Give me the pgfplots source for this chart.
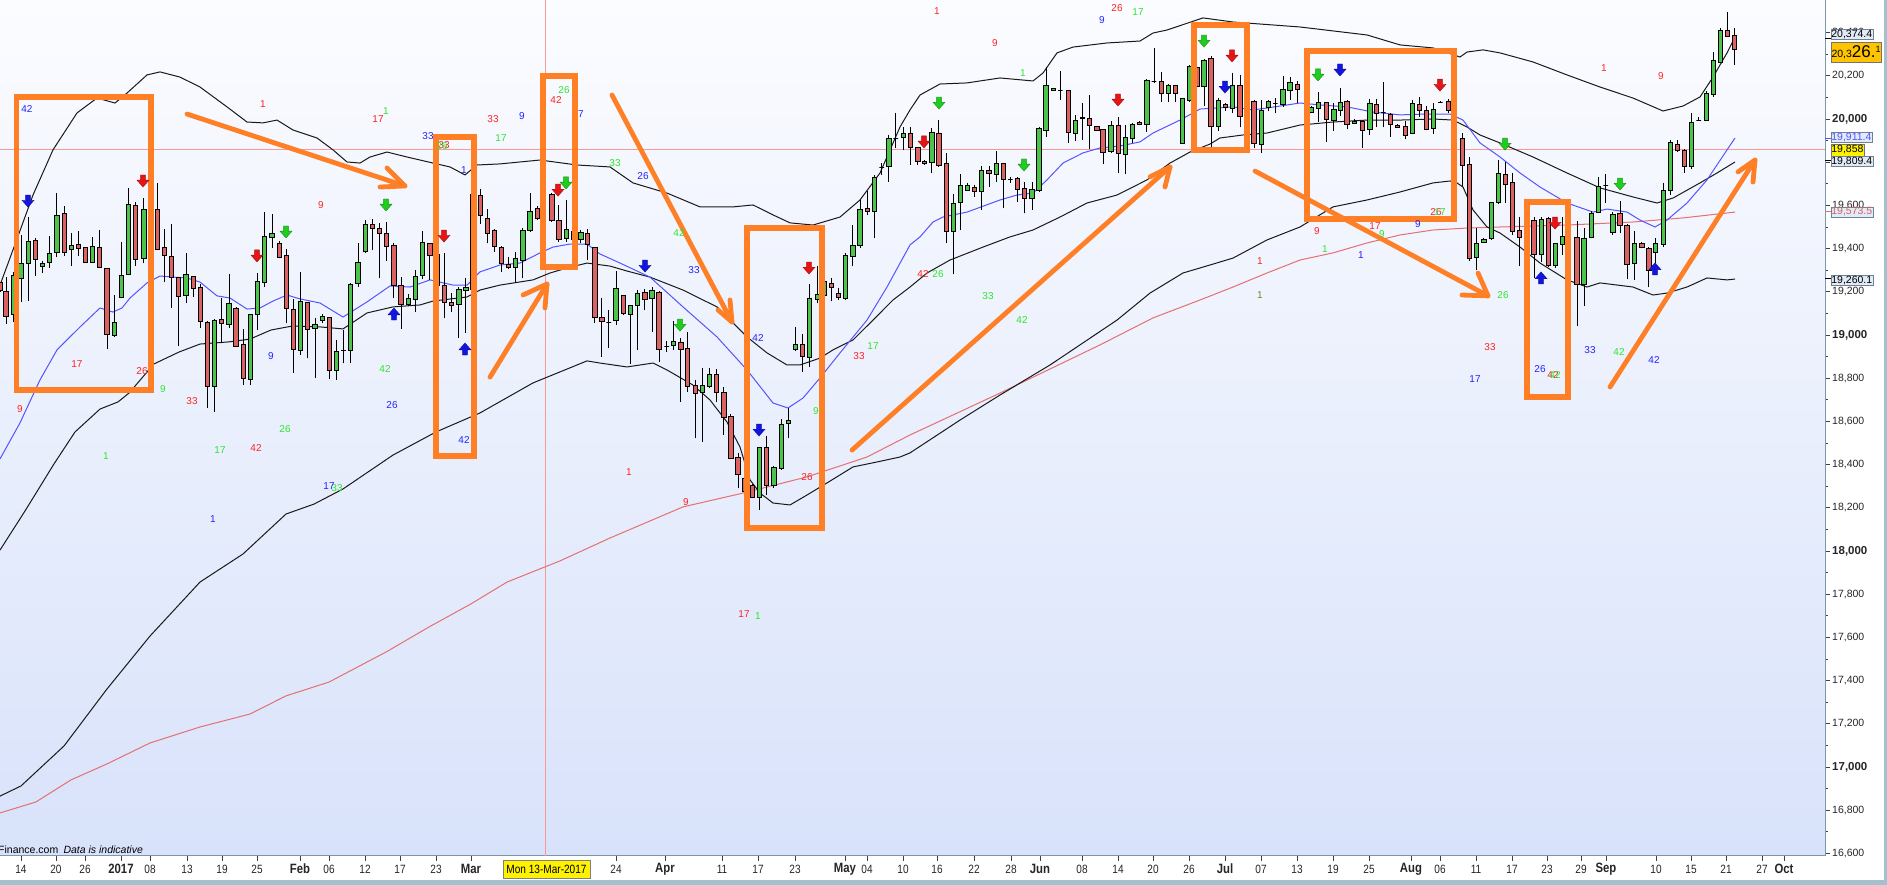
\documentclass[border=0pt]{standalone}
\usepackage{fontspec}
\setmainfont{Liberation Sans}
\newfontfamily\narrowfont[FakeStretch=0.84]{Liberation Sans}
\usepackage{pgfplots}
\usepackage{pgfplotstable}
\pgfplotsset{compat=1.18}

\definecolor{upgreen}{RGB}{76,196,76}
\definecolor{downred}{RGB}{218,98,98}
\definecolor{bandblack}{RGB}{25,25,25}
\definecolor{mablue}{RGB}{85,85,255}
\definecolor{mared}{RGB}{228,112,112}
\definecolor{annred}{RGB}{255,35,35}
\definecolor{anngreen}{RGB}{45,230,45}
\definecolor{annblue}{RGB}{35,35,255}
\definecolor{annolive}{RGB}{110,140,50}
\definecolor{orng}{RGB}{255,127,39}
\definecolor{arrred}{RGB}{232,20,20}
\definecolor{arrgreen}{RGB}{30,205,30}
\definecolor{arrblue}{RGB}{20,20,225}
\definecolor{bgtop}{RGB}{251,252,255}
\definecolor{bgbot}{RGB}{216,226,250}
\definecolor{strip}{RGB}{162,192,206}
\definecolor{axiscol}{RGB}{125,150,170}
\definecolor{boxfill}{RGB}{226,234,246}
\definecolor{boxborder}{RGB}{110,130,150}
\definecolor{gold}{RGB}{255,196,0}
\definecolor{crossp}{RGB}{255,150,150}

\newcommand{\mon}[1]{{\fontsize{13.5}{13.5}\selectfont\bfseries #1}}
\newcommand{\thou}[1]{{\fontsize{11.5}{11.5}\selectfont\bfseries #1}}

\pgfdeclareplotmark{darrow}{%
  \pgfpathmoveto{\pgfpoint{-2.4pt}{6pt}}%
  \pgfpathlineto{\pgfpoint{2.4pt}{6pt}}%
  \pgfpathlineto{\pgfpoint{2.4pt}{0.8pt}}%
  \pgfpathlineto{\pgfpoint{6pt}{0.8pt}}%
  \pgfpathlineto{\pgfpoint{0pt}{-6pt}}%
  \pgfpathlineto{\pgfpoint{-6pt}{0.8pt}}%
  \pgfpathlineto{\pgfpoint{-2.4pt}{0.8pt}}%
  \pgfpathclose
  \pgfusepathqfillstroke}
\pgfdeclareplotmark{uarrow}{%
  \pgfpathmoveto{\pgfpoint{-2.4pt}{-6pt}}%
  \pgfpathlineto{\pgfpoint{2.4pt}{-6pt}}%
  \pgfpathlineto{\pgfpoint{2.4pt}{-0.8pt}}%
  \pgfpathlineto{\pgfpoint{6pt}{-0.8pt}}%
  \pgfpathlineto{\pgfpoint{0pt}{6pt}}%
  \pgfpathlineto{\pgfpoint{-6pt}{-0.8pt}}%
  \pgfpathlineto{\pgfpoint{-2.4pt}{-0.8pt}}%
  \pgfpathclose
  \pgfusepathqfillstroke}

\pgfplotstableread{
x O H L C
0 19242 19247 19201 19208
6 19201 19270 19051 19088
13.3 19093 19293 19059 19276
21 19262 19463 19154 19332
28.3 19332 19548 19159 19432
35.3 19438 19448 19273 19350
42.3 19318 19343 19285 19332
49.3 19336 19458 19309 19378
56.7 19383 19656 19360 19554
64.3 19563 19597 19366 19383
71.3 19397 19471 19321 19414
78.3 19420 19481 19367 19401
85.3 19406 19409 19332 19336
92.3 19335 19452 19332 19409
99.3 19406 19486 19313 19313
107 19309 19309 18935 19003
114.3 19000 19185 18989 19059
121.3 19174 19429 19170 19275
128.3 19282 19682 19279 19606
135.3 19602 19617 19321 19350
143.7 19355 19633 19332 19582
157.3 19582 19702 19394 19398
164.3 19406 19491 19247 19367
171.3 19364 19514 19127 19267
178.3 19265 19265 18951 19177
186 19181 19378 19147 19281
193.3 19270 19273 19177 19216
200.3 19222 19235 19031 19062
207.3 19060 19063 18664 18761
214.3 18761 19072 18645 19068
221.3 19072 19173 18961 19054
229 19049 19282 19031 19147
236 19123 19131 18946 18946
243.3 18954 19028 18768 18799
250.3 18792 19093 18768 19093
257.3 19096 19285 19023 19250
264.3 19244 19571 19224 19457
272 19452 19559 19401 19471
279.3 19424 19437 19355 19360
286.3 19366 19397 19054 19123
293.3 19119 19165 18826 18934
300.3 18930 19292 18909 19157
307.3 19150 19154 18892 19026
315 19031 19077 18802 19051
322.3 19066 19097 19054 19088
329.3 19082 19085 18795 18838
336.3 18835 18977 18792 18926
343.3 18930 19023 18869 18928
350.3 18930 19239 18869 19236
358 19239 19424 19224 19336
365.3 19386 19532 19381 19514
372.3 19514 19535 19394 19494
379.3 19494 19517 19265 19471
386.3 19468 19525 19344 19409
393.7 19415 19424 19173 19227
401 19230 19270 19028 19142
408.3 19143 19190 19134 19170
415.3 19165 19301 19108 19270
422.3 19275 19481 19258 19429
429.7 19424 19427 19255 19369
437.3 19373 19378 19208 19231
444.3 19231 19378 19077 19151
451.3 19151 19193 19108 19137
458.7 19142 19224 18988 19213
465.7 19207 19265 19011 19222
472.7 19211 19651 19208 19651
480.3 19644 19674 19512 19552
487.3 19540 19583 19424 19471
494.3 19486 19491 19386 19409
501.3 19406 19412 19293 19330
508.3 19327 19363 19307 19313
515.3 19313 19386 19242 19352
522.7 19344 19494 19262 19486
530 19486 19656 19478 19571
537.3 19586 19597 19532 19540
551.7 19651 19659 19525 19532
558.7 19532 19602 19432 19443
566.3 19448 19625 19432 19489
573.3 19480 19500 19420 19440
580.7 19440 19486 19424 19474
587.3 19471 19489 19347 19417
594.7 19406 19409 19054 19082
601.7 19082 19170 18900 19062
608.7 19057 19116 18938 19057
616 19069 19296 19046 19216
623.3 19183 19183 19092 19100
630.3 19095 19139 18864 19136
637.3 19136 19208 18930 19193
644.7 19197 19211 19116 19165
652 19168 19224 19015 19205
659 19197 19205 18876 18933
666.7 18946 18974 18920 18946
673.3 18950 19065 18930 18969
680.7 18966 18984 18691 18935
687.3 18938 19015 18737 18761
695.3 18768 18791 18521 18730
702.3 18734 18845 18506 18768
709.3 18761 18845 18753 18815
716.3 18819 18841 18691 18734
723.7 18734 18761 18537 18619
730.7 18625 18634 18424 18429
738 18433 18452 18290 18352
745 18336 18350 18260 18275
752.3 18302 18308 18244 18248
759.3 18248 18483 18190 18478
766.3 18478 18532 18259 18301
773.7 18301 18393 18290 18387
781.3 18382 18611 18375 18586
788.3 18591 18663 18524 18606
795.3 18933 19038 18926 18957
802.3 18954 19004 18830 18899
809.3 18895 19236 18853 19170
817.3 19165 19319 19146 19188
824.3 19185 19270 19170 19250
831.3 19239 19262 19157 19219
838.3 19193 19216 19162 19173
845.3 19167 19378 19162 19370
852.7 19362 19509 19319 19416
860 19413 19625 19401 19582
867.3 19586 19666 19555 19571
874.3 19571 19741 19447 19730
881.7 19776 19795 19741 19776
888.7 19779 19926 19710 19910
895.7 19909 20026 19864 19909
903.3 19915 19964 19856 19934
910.3 19934 19964 19787 19869
917.7 19869 19872 19787 19805
924.3 19805 19810 19787 19795
931.7 19799 19960 19748 19938
938.7 19934 19995 19779 19787
946.3 19795 19841 19424 19478
953.3 19478 19651 19281 19609
960.3 19614 19744 19486 19690
967.3 19671 19702 19667 19690
974.3 19684 19694 19640 19664
981.3 19664 19784 19579 19764
989 19764 19782 19687 19748
996.3 19744 19852 19710 19795
1003.3 19795 19798 19586 19722
1010.3 19718 19733 19705 19718
1017.3 19727 19733 19617 19674
1024.3 19677 19710 19563 19633
1032 19630 19710 19579 19674
1039 19667 19964 19660 19954
1046 19949 20242 19918 20153
1053.3 20134 20145 20130 20142
1060.3 20131 20222 20088 20131
1068.3 20133 20134 19890 19938
1075.3 19934 20018 19898 19995
1082.3 20002 20073 19903 20008
1089.3 20001 20111 19861 19968
1096.7 19964 19969 19944 19949
1103 19952 19954 19790 19846
1111 19849 19992 19841 19969
1118.3 19969 20008 19748 19841
1125.3 19838 19972 19744 19915
1132.3 19910 19980 19890 19975
1139.3 19985 19991 19972 19975
1146.7 19977 20184 19941 20180
1154 20173 20327 20165 20173
1161.3 20173 20216 20080 20119
1168.3 20116 20160 20077 20154
1175.3 20153 20157 20080 20116
1182.3 19887 20099 19887 20096
1189.3 20088 20250 20080 20245
1196.7 20239 20242 20111 20150
1204 20150 20276 20060 20272
1211 20281 20291 19868 19964
1218.3 19967 20095 19944 20088
1225.3 20068 20072 20037 20054
1232.3 20049 20211 20026 20157
1240 20157 20203 19961 20010
1254 20083 20088 19864 19887
1261.3 19884 20088 19841 20041
1268.3 20054 20088 20037 20080
1275.3 20071 20095 20026 20071
1283 20068 20199 20057 20137
1290 20134 20196 20088 20168
1297.3 20162 20177 20072 20137
1311.3 20032 20060 20026 20054
1318.3 20049 20123 19987 20077
1326.3 20075 20080 19895 20000
1333.7 19995 20072 19946 20046
1340.3 20041 20142 20014 20077
1347 20083 20088 19953 19977
1354.3 19980 19999 19977 19990
1362.3 19987 19992 19867 19949
1369.7 19953 20092 19926 20074
1376.3 20068 20092 19961 20026
1383.3 20029 20173 19961 20029
1390.3 20021 20026 19918 19975
1397.3 19969 19975 19956 19961
1405.3 19967 19992 19906 19926
1412.3 19933 20088 19930 20072
1419.3 20069 20100 20010 20038
1426.3 20041 20060 19949 19953
1433.3 19956 20072 19930 20044
1440.3 20078 20081 20075 20078
1448.3 20083 20092 20026 20041
1462.3 19910 19933 19691 19785
1469.3 19790 19825 19344 19355
1476.3 19359 19493 19300 19424
1483.7 19429 19447 19424 19442
1491.3 19447 19617 19442 19612
1498.3 19612 19810 19605 19748
1505.3 19741 19799 19610 19699
1512.3 19705 19748 19463 19481
1519.3 19486 19548 19321 19452
1534 19528 19545 19262 19375
1541.3 19373 19545 19339 19537
1548.3 19540 19548 19316 19321
1555.3 19321 19424 19309 19424
1562.3 19420 19545 19370 19458
1577 19452 19529 19043 19235
1584 19235 19494 19136 19448
1591.3 19451 19574 19448 19563
1598.3 19568 19733 19563 19687
1605.7 19694 19744 19613 19694
1612.7 19475 19571 19463 19559
1620 19563 19620 19471 19509
1627 19509 19514 19258 19327
1634.3 19332 19481 19255 19424
1641.7 19424 19429 19401 19406
1648.7 19401 19409 19221 19301
1655.3 19383 19448 19332 19424
1663.3 19420 19702 19406 19667
1670.3 19667 19903 19648 19892
1677.3 19883 19903 19849 19853
1684.3 19853 19860 19752 19782
1691.3 19782 20026 19767 19985
1698.7 19995 20011 19992 19995
1706.3 19995 20131 19992 20119
1713.3 20114 20312 20103 20273
1720.3 20262 20420 20258 20409
1727.3 20409 20497 20381 20384
1734.3 20386 20420 20250 20323
}\candles

\begin{document}
\begin{tikzpicture}
\path[use as bounding box] (0pt,0pt) rectangle (1887pt,885pt);
\fill[white] (0pt,0pt) rectangle (1887pt,885pt);
\fill[strip] (1884pt,0pt) rectangle (1887pt,885pt);
\fill[strip] (0pt,0pt) rectangle (1887pt,5pt);

\begin{axis}[
  at={(0pt,29pt)}, anchor=south west,
  width=1825pt, height=856pt, scale only axis,
  xmin=0, xmax=1825, ymin=16587.7, ymax=20551,
  axis x line*=bottom, axis y line*=right,
  x axis line style={-}, y axis line style={-},
  axis line style={draw=axiscol, line width=1pt},
  axis background/.style={shade, top color=bgtop, bottom color=bgbot},
  tick align=outside, major tick length=5pt, minor tick length=3pt,
  tick style={black!75, line width=0.8pt},
  minor y tick num=1,
  ytick={16600,16800,...,20400},
  yticklabels={{16,600},{16,800},{\thou{17,000}},{17,200},{17,400},{17,600},{17,800},{\thou{18,000}},{18,200},{18,400},{18,600},{18,800},{\thou{19,000}},{19,200},{19,400},{19,600},{19,800},{\thou{20,000}},{20,200},{20,400}},
  yticklabel style={font=\fontsize{10.5}{10.5}\selectfont, anchor=west, inner sep=0pt, xshift=2pt, text=black!85},
  xtick={21,56,85,121,150,187,222,257,300,329,365,400,436,471,616,665,722,758,795,845,867,903,937,974,1011,1040,1082,1118,1153,1189,1225,1261,1297,1333,1369,1411,1440,1476,1512,1547,1581,1606,1656,1691,1726,1762,1784},
  xticklabels={14,20,26,\mon{2017},08,13,19,25,\mon{Feb},06,12,17,23,\mon{Mar},24,\mon{Apr},11,17,23,\mon{May},04,10,16,22,28,\mon{Jun},08,14,20,26,\mon{Jul},07,13,19,25,\mon{Aug},06,11,17,23,29,\mon{Sep},10,15,21,27,\mon{Oct}},
  xticklabel style={font=\narrowfont\fontsize{12}{12}\selectfont, anchor=center, inner sep=0pt, yshift=-8pt, text=black!85},
  clip=true,
]

% crosshair
\addplot[crossp, line width=0.8pt, forget plot] coordinates {(0,19858) (1825,19858)};
\addplot[crossp, line width=0.8pt, forget plot] coordinates {(545,16587.7) (545,20551)};

% 200 MA (red)
\addplot[mared, line width=1pt, forget plot] coordinates {
(0,16787) (36,16838) (71,16940) (107,17014) (150,17111) (200,17185) (250,17245) (286,17329) (329,17393) (386,17532) (429,17648) (471,17755) (507,17856) (560,17954) (610,18060) (683,18204) (743,18268) (807,18343) (867,18435) (910,18537) (1000,18731) (1100,18954) (1153,19079) (1200,19162) (1233,19222) (1267,19287) (1300,19347) (1333,19380) (1367,19426) (1400,19463) (1433,19486) (1467,19495) (1500,19500) (1567,19509) (1633,19523) (1683,19542) (1735,19569)};

% upper band
\addplot[bandblack, line width=1pt, forget plot] coordinates {
(0,19231) (13,19394) (33,19648) (53,19857) (77,20028) (97,20097) (115,20074) (127,20120) (147,20204) (160,20218) (180,20194) (200,20148) (227,20056) (247,19986) (263,19982) (277,19995) (293,19949) (317,19912) (333,19857) (347,19801) (360,19796) (370,19824) (387,19847) (407,19824) (433,19796) (450,19778) (465,19741) (477,19787) (500,19792) (540,19810) (577,19787) (610,19778) (633,19704) (667,19657) (700,19593) (733,19593) (753,19602) (773,19556) (790,19519) (813,19509) (840,19546) (860,19625) (880,19750) (900,19963) (910,20042) (920,20111) (940,20162) (967,20167) (1000,20190) (1033,20176) (1043,20213) (1057,20306) (1073,20333) (1107,20352) (1140,20361) (1153,20398) (1167,20412) (1203,20468) (1233,20449) (1300,20426) (1367,20389) (1400,20343) (1433,20329) (1460,20287) (1467,20310) (1483,20320) (1500,20306) (1533,20264) (1567,20204) (1600,20148) (1633,20097) (1663,20037) (1683,20060) (1700,20102) (1713,20194) (1727,20306) (1735,20380)};

% middle band
\addplot[bandblack, line width=1pt, forget plot] coordinates {
(0,18004) (25,18185) (54,18403) (75,18551) (100,18657) (118,18690) (129,18731) (154,18866) (179,18921) (200,18958) (229,18968) (250,18981) (271,19023) (293,19042) (321,19037) (343,19028) (367,19102) (393,19130) (420,19139) (433,19157) (467,19176) (480,19208) (500,19231) (533,19255) (550,19287) (567,19310) (587,19333) (610,19319) (627,19296) (650,19268) (683,19208) (717,19130) (747,18991) (767,18917) (787,18861) (800,18861) (820,18893) (833,18931) (853,18977) (873,19069) (893,19162) (910,19222) (927,19287) (950,19347) (983,19407) (1010,19454) (1033,19486) (1060,19546) (1087,19611) (1117,19648) (1147,19718) (1170,19796) (1190,19847) (1210,19884) (1220,19912) (1243,19926) (1267,19935) (1300,19972) (1333,19986) (1367,19995) (1400,19995) (1433,20000) (1453,19995) (1467,19963) (1480,19926) (1500,19889) (1533,19824) (1567,19750) (1600,19681) (1633,19639) (1657,19611) (1673,19634) (1700,19704) (1717,19750) (1735,19801)};

% lower band
\addplot[bandblack, line width=1pt, forget plot] coordinates {
(0,16865) (21,16912) (64,17097) (107,17361) (150,17606) (200,17856) (243,17986) (286,18171) (314,18217) (343,18287) (393,18444) (436,18551) (480,18639) (533,18778) (587,18880) (600,18870) (627,18852) (653,18870) (667,18838) (693,18768) (710,18699) (727,18597) (740,18481) (750,18329) (760,18268) (773,18222) (790,18213) (807,18259) (827,18315) (853,18389) (877,18412) (900,18435) (910,18454) (960,18606) (1000,18722) (1050,18861) (1117,19069) (1150,19194) (1183,19287) (1210,19324) (1233,19356) (1267,19440) (1300,19500) (1333,19593) (1367,19625) (1400,19662) (1433,19704) (1450,19713) (1457,19704) (1463,19685) (1473,19579) (1487,19500) (1500,19472) (1520,19407) (1540,19333) (1567,19255) (1587,19222) (1600,19241) (1633,19222) (1653,19185) (1667,19194) (1687,19222) (1707,19264) (1727,19255) (1735,19259)};

% fast MA (blue)
\addplot[mablue, line width=1pt, forget plot] coordinates {
(0,18426) (20,18593) (40,18792) (57,18931) (80,19037) (100,19125) (113,19106) (122,19125) (130,19171) (147,19241) (160,19273) (173,19268) (187,19264) (200,19245) (217,19181) (230,19171) (247,19120) (260,19125) (273,19157) (287,19185) (300,19167) (320,19148) (343,19083) (367,19153) (390,19227) (410,19222) (430,19255) (453,19231) (467,19231) (480,19292) (500,19324) (520,19333) (540,19380) (553,19407) (570,19421) (587,19421) (600,19375) (620,19333) (650,19268) (683,19130) (717,18991) (747,18838) (773,18685) (788,18662) (803,18708) (820,18801) (840,18917) (867,19069) (887,19222) (910,19417) (920,19454) (933,19523) (943,19546) (967,19569) (1000,19625) (1017,19648) (1033,19657) (1047,19718) (1063,19796) (1083,19843) (1100,19866) (1120,19875) (1140,19894) (1153,19935) (1180,19995) (1200,20046) (1233,20056) (1253,20042) (1267,20051) (1300,20074) (1320,20065) (1347,20056) (1373,20032) (1400,20019) (1427,20023) (1450,20023) (1463,19995) (1480,19889) (1493,19847) (1500,19824) (1520,19750) (1540,19685) (1567,19611) (1593,19569) (1607,19583) (1627,19569) (1640,19532) (1655,19500) (1667,19532) (1687,19611) (1707,19718) (1727,19857) (1735,19912)};

% candles: wick + body per row of the table
\pgfplotstablegetrowsof{\candles}
\pgfmathtruncatemacro{\lastrow}{\pgfplotsretval-1}
\pgfplotsforeachungrouped \i in {0,...,\lastrow}{%
  \pgfplotstablegetelem{\i}{x}\of\candles \let\cx\pgfplotsretval
  \pgfplotstablegetelem{\i}{O}\of\candles \let\cO\pgfplotsretval
  \pgfplotstablegetelem{\i}{H}\of\candles \let\cH\pgfplotsretval
  \pgfplotstablegetelem{\i}{L}\of\candles \let\cL\pgfplotsretval
  \pgfplotstablegetelem{\i}{C}\of\candles \let\cC\pgfplotsretval
  \ifnum\cC<\cO\relax
    \let\clow\cC \let\chigh\cO \def\cfill{downred}%
  \else
    \let\clow\cO \let\chigh\cC \def\cfill{upgreen}%
  \fi
  \pgfmathsetmacro\xa{\cx-2.3}%
  \pgfmathsetmacro\xb{\cx+2.3}%
  \edef\doplot{\noexpand\addplot[forget plot, black, line width=0.9pt] coordinates {(\cx,\cL) (\cx,\cH)};%
    \noexpand\addplot[forget plot, draw=black, fill=\cfill, line width=0.9pt] coordinates {(\xa,\clow) (\xb,\clow) (\xb,\chigh) (\xa,\chigh)} -- cycle;}%
  \doplot
}

% signal arrows
\addplot[only marks, mark=darrow, mark options={fill=arrblue, draw=arrblue!70!black, line width=0.4pt}, forget plot] coordinates {(28,19620) (645,19319) (759,18560) (1225,20148) (1340,20227)};
\addplot[only marks, mark=darrow, mark options={fill=arrred, draw=arrred!70!black, line width=0.4pt}, forget plot] coordinates {(143,19713) (257,19366) (444,19458) (558,19671) (809,19310) (924,19894) (1118,20088) (1232,20292) (1440,20157) (1555,19518)};
\addplot[only marks, mark=darrow, mark options={fill=arrgreen, draw=arrgreen!70!black, line width=0.4pt}, forget plot] coordinates {(286,19477) (386,19602) (566,19704) (680,19046) (939,20074) (1024,19787) (1204,20361) (1318,20204) (1505,19884) (1620,19699)};
\addplot[only marks, mark=uarrow, mark options={fill=arrblue, draw=arrblue!70!black, line width=0.4pt}, forget plot] coordinates {(394,19097) (465,18935) (1541,19264) (1655,19306)};

% count labels
\addplot[only marks, mark=none, nodes near coords, point meta=explicit symbolic, forget plot,
  nodes near coords style={anchor=center, inner sep=0pt, font=\fontsize{10}{10}\selectfont, text=annred}] coordinates {
(263,20069) [1] (378,20000) [17] (444,19880) [33] (493,20000) [33] (556,20088) [42] (321,19602) [9]
(859,18903) [33] (807,18343) [26] (629,18366) [1] (686,18227) [9] (744,17708) [17] (77,18866) [17]
(142,18833) [26] (20,18657) [9] (192,18694) [33] (256,18477) [42] (937,20500) [1] (995,20352) [9]
(1117,20514) [26] (923,19282) [42] (1317,19482) [9] (1260,19343) [1] (1375,19505) [17] (1436,19569) [26]
(1490,18944) [33] (1553,18815) [42] (1604,20236) [1] (1661,20199) [9]};
\addplot[only marks, mark=none, nodes near coords, point meta=explicit symbolic, forget plot,
  nodes near coords style={anchor=center, inner sep=0pt, font=\fontsize{10}{10}\selectfont, text=anngreen}] coordinates {
(386,20035) [1] (442,19875) [26] (501,19912) [17] (564,20134) [26] (615,19796) [33] (679,19472) [42]
(816,18648) [9] (873,18949) [17] (758,17699) [1] (163,18750) [9] (106,18440) [1] (285,18565) [26]
(220,18467) [17] (385,18843) [42] (337,18292) [33] (1138,20495) [17] (1023,20213) [1] (938,19282) [26]
(988,19181) [33] (1022,19069) [42] (1325,19398) [1] (1382,19468) [9] (1440,19569) [17] (1503,19185) [26]
(1619,18921) [42] (1555,18815) [42]};
\addplot[only marks, mark=none, nodes near coords, point meta=explicit symbolic, forget plot,
  nodes near coords style={anchor=center, inner sep=0pt, font=\fontsize{10}{10}\selectfont, text=annblue}] coordinates {
(27,20046) [42] (428,19921) [33] (464,19764) [1] (522,20014) [9] (581,20023) [7] (643,19736) [26]
(694,19301) [33] (758,18986) [42] (271,18903) [9] (392,18676) [26] (464,18514) [42] (329,18301) [17]
(213,18148) [1] (1102,20458) [9] (1361,19370) [1] (1418,19514) [9] (1475,18796) [17] (1540,18843) [26]
(1590,18930) [33] (1654,18884) [42]};
\addplot[only marks, mark=none, nodes near coords, point meta=explicit symbolic, forget plot,
  nodes near coords style={anchor=center, inner sep=0pt, font=\fontsize{10}{10}\selectfont, text=annolive}] coordinates {(1260,19185) [1]};

% hand-drawn orange annotations
\begin{scope}[orng, line width=5.5pt, line join=miter]
\draw (axis cs:16.5,20102) rectangle (axis cs:151,18745);
\draw (axis cs:436,19917) rectangle (axis cs:474,18440);
\draw (axis cs:543,20199) rectangle (axis cs:575,19315);
\draw (axis cs:747,19495) rectangle (axis cs:822,18106);
\draw (axis cs:1194,20435) rectangle (axis cs:1247,19857);
\draw (axis cs:1307,20315) rectangle (axis cs:1454,19537);
\draw (axis cs:1527,19616) rectangle (axis cs:1568,18713);
\end{scope}
\begin{scope}[orng, line width=4.8pt, line cap=round, line join=round]
\draw (axis cs:187,20023) -- (axis cs:405,19690);
\draw (axis cs:387,19773) -- (axis cs:405,19690) -- (axis cs:380,19685);
\draw (axis cs:490,18805) -- (axis cs:547,19236);
\draw (axis cs:523,19185) -- (axis cs:547,19236) -- (axis cs:545,19125);
\draw (axis cs:612,20111) -- (axis cs:732,19060);
\draw (axis cs:718,19116) -- (axis cs:732,19060) -- (axis cs:730,19162);
\draw (axis cs:852,18467) -- (axis cs:1170,19778);
\draw (axis cs:1150,19732) -- (axis cs:1170,19778) -- (axis cs:1165,19685);
\draw (axis cs:1255,19759) -- (axis cs:1488,19181);
\draw (axis cs:1462,19185) -- (axis cs:1488,19181) -- (axis cs:1478,19287);
\draw (axis cs:1610,18759) -- (axis cs:1755,19810);
\draw (axis cs:1738,19755) -- (axis cs:1755,19810) -- (axis cs:1753,19708);
\end{scope}

\node[anchor=south west, inner sep=0pt, font=\fontsize{10.5}{10.5}\selectfont, xshift=-2pt, yshift=2pt] at (rel axis cs:0,0) {Finance.com\enspace\textit{Data is indicative}};
\end{axis}

% value boxes on the right
\draw[black, line width=0.8pt] (1825pt,846.9pt) -- (1831pt,846.9pt);
\draw[mablue, line width=0.8pt] (1825pt,746.9pt) -- (1831pt,746.9pt);
\draw[black, line width=0.8pt] (1825pt,724.8pt) -- (1831pt,724.8pt);
\draw[mared, line width=0.8pt] (1825pt,673.9pt) -- (1831pt,673.9pt);
\draw[black, line width=0.8pt] (1825pt,606.2pt) -- (1831pt,606.2pt);
\node[draw=boxborder, fill=boxfill, inner sep=0.6pt, anchor=west, minimum height=10pt, font=\fontsize{10.5}{10}\selectfont] at (1830.5pt,850.5pt) {20,374.4};
\node[draw=black!55, fill=gold, inner sep=0.8pt, anchor=west, minimum height=20pt] at (1830.5pt,833pt) {\fontsize{10.5}{10}\selectfont 20,3\fontsize{17}{17}\selectfont 26.\raisebox{5pt}{\fontsize{9}{9}\selectfont 1}};
\node[draw=boxborder, fill=boxfill, inner sep=0.6pt, anchor=west, minimum height=10pt, text=mablue, font=\fontsize{10.5}{10}\selectfont] at (1830.5pt,747.3pt) {19,911.4};
\node[draw=black!55, fill=yellow, inner sep=0.6pt, anchor=west, minimum height=11.5pt, font=\fontsize{10.5}{10}\selectfont] at (1830.5pt,735pt) {19,858};
\node[draw=boxborder, fill=boxfill, inner sep=0.6pt, anchor=west, minimum height=10pt, font=\fontsize{10.5}{10}\selectfont] at (1830.5pt,723.3pt) {19,809.4};
\node[draw=boxborder, fill=boxfill, inner sep=0.6pt, anchor=west, minimum height=10pt, text=mared!90!black, font=\fontsize{10.5}{10}\selectfont] at (1830.5pt,673pt) {19,573.5};
\node[draw=boxborder, fill=boxfill, inner sep=0.6pt, anchor=west, minimum height=10pt, font=\fontsize{10.5}{10}\selectfont] at (1830.5pt,604.5pt) {19,260.1};

% highlighted date
\node[draw=black!50, fill=yellow, inner sep=1pt, minimum height=18pt, minimum width=87pt, font=\narrowfont\fontsize{12}{12}\selectfont] at (546.5pt,16pt) {Mon 13-Mar-2017};
\end{tikzpicture}
\end{document}
